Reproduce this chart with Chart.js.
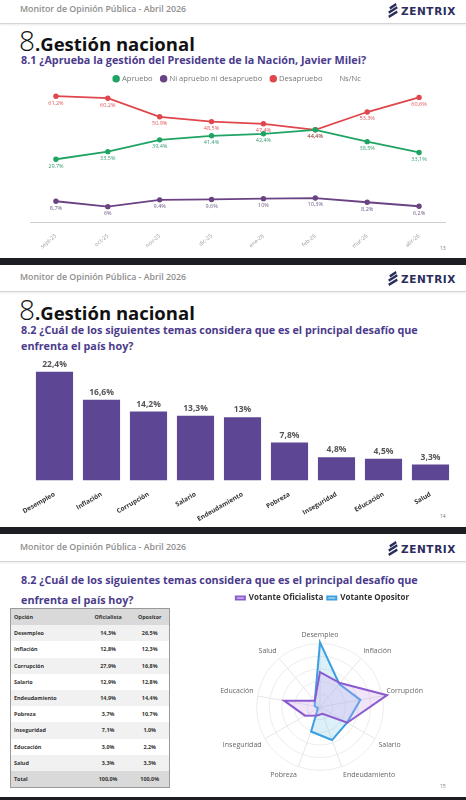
<!DOCTYPE html>
<html>
<head>
<meta charset="utf-8">
<script src="https://cdn.jsdelivr.net/npm/chart.js@4.4.1/dist/chart.umd.min.js"></script>
<style>
  body { margin: 0; width: 466px; height: 800px; background: #1d1d24; position: relative; overflow: hidden; font-family: "Open Sans", sans-serif; }
  .slide { position: absolute; left: 0; width: 466px; background: #fff; }
  .hdr { position: absolute; left: 20px; font-size: 8.8px; font-weight: 600; color: #8e8e8e; }
  .rule { position: absolute; left: 0; width: 466px; height: 1px; background: #d6d6d6; box-shadow: 0 1px 2px rgba(0,0,0,0.12); }
  .logo { position: absolute; left: 387px; display: flex; align-items: center; }
  .logo span { font-size: 10.5px; font-weight: 700; color: #2b2d5c; letter-spacing: 0.6px; margin-left: 2px; font-family: "DejaVu Sans", sans-serif; }
  .title { position: absolute; left: 19px; font-weight: 700; font-size: 18.5px; color: #111; white-space: nowrap; }
  .title .n { font-weight: 300; font-size: 28px; }
  .sub { position: absolute; left: 21px; font-size: 10.8px; font-weight: 700; color: #4b3b8c; line-height: 16px; white-space: nowrap; }
  .pg { position: absolute; left: 440px; font-size: 5px; color: #777; }
  canvas { position: absolute; }
  table { position: absolute; left: 10px; top: 608px; width: 160px; border-collapse: collapse; border: 1.5px solid #9a9a9a; font-size: 5.4px; font-weight: 700; color: #333; }
  td { height: 16.2px; padding: 0 0 0 3px; }
  td.c { text-align: center; padding: 0; }
  tr:nth-child(even) td { background: #f1f1f1; }
  tr.h td, tr.t td { background: #d9d9d9; }
</style>
</head>
<body>
<script>
// ---- data ----
const months = ['sept-25', 'oct-25', 'nov-25', 'dic-25', 'ene-26', 'feb-26', 'mar-26', 'abr-26'];
const apruebo = [29.7, 33.5, 39.4, 41.4, 42.4, 44.4, 38.5, 33.1];
const niNi = [8.7, 6, 9.4, 9.6, 10, 10.3, 8.2, 6.2];
const desapruebo = [61.2, 60.2, 50.9, 48.5, 47.4, 44.4, 53.3, 60.6];

const temas = ['Desempleo', 'Inflación', 'Corrupción', 'Salario', 'Endeudamiento', 'Pobreza', 'Inseguridad', 'Educación', 'Salud'];
const temasTotal = [22.4, 16.6, 14.2, 13.3, 13, 7.8, 4.8, 4.5, 3.3];

const oficialista = [14.3, 12.8, 27.9, 12.9, 14.9, 3.7, 7.1, 3.0, 3.3];
const opositor = [26.5, 12.3, 16.8, 12.8, 14.4, 10.7, 1.0, 2.2, 3.3];
// as plotted in the radar of the slide
const radarOficialista = [14.3, 12.8, 27.9, 12.9, 3.0, 3.7, 7.1, 14.9, 3.3];
const radarOpositor = [26.5, 12.3, 16.8, 12.8, 14.4, 10.7, 1.0, 2.2, 3.3];
</script>

<div class="slide" style="top:0;height:258px"></div>
<div class="slide" style="top:265px;height:262px"></div>
<div class="slide" style="top:534px;height:263px"></div>

<div id="frames"></div>

<canvas id="lineChart" width="466" height="192" style="left:0;top:66px"></canvas>
<canvas id="barChart" width="466" height="177" style="left:0;top:350px"></canvas>
<canvas id="radarChart" width="205" height="208" style="left:220px;top:590px"></canvas>
<table id="tbl"></table>

<script>
const pct = v => String(v).replace('.', ',') + '%';
const pct1 = v => v.toFixed(1).replace('.', ',') + '%';

// headers of the 3 slides
const tops = [0, 268, 538];
let html = '';
tops.forEach((t, i) => {
    html += `<div class="hdr" style="top:${t + 3}px">Monitor de Opinión Pública - Abril 2026</div>`;
    html += `<div class="logo" style="top:${t + 3}px"><svg width="12" height="15" viewBox="0 0 11 14">
        <path d="M2 4 L8 0 L9 2 L3 6 Z M1 8 L9 3 L10 5 L2 10 Z M1 12 L9 7 L10 9 L2 14 Z" fill="#2b2d5c"/></svg><span>ZENTRIX</span></div>`;
    html += `<div class="rule" style="top:${t + 23}px"></div>`;
});
html += `<div class="title" style="top:21px"><span class="n">8</span>.Gestión nacional</div>`;
html += `<div class="sub" style="top:52px">8.1 ¿Aprueba la gestión del Presidente de la Nación, Javier Milei?</div>`;
html += `<div class="title" style="top:290px"><span class="n">8</span>.Gestión nacional</div>`;
html += `<div class="sub" style="top:322px">8.2 ¿Cuál de los siguientes temas considera que es el principal desafío que<br>enfrenta el país hoy?</div>`;
html += `<div class="sub" style="top:570px;line-height:20px">8.2 ¿Cuál de los siguientes temas considera que es el principal desafío que<br>enfrenta el país hoy?</div>`;
html += `<div class="pg" style="top:245px">13</div><div class="pg" style="top:513px">14</div><div class="pg" style="top:783px">15</div>`;
document.getElementById('frames').innerHTML = html;

// table
let rows = '<tr class="h"><td>Opción</td><td class="c">Oficialista</td><td class="c">Opositor</td></tr>';
temas.forEach((t, i) => {
    rows += `<tr><td>${t}</td><td class="c">${pct1(oficialista[i])}</td><td class="c">${pct1(opositor[i])}</td></tr>`;
});
rows += '<tr class="t"><td>Total</td><td class="c">100,0%</td><td class="c">100,0%</td></tr>';
document.getElementById('tbl').innerHTML = rows;

// value labels drawn next to each point / bar
const valueLabels = {
    id: 'valueLabels',
    afterDatasetsDraw(chart, args, opts) {
        const ctx = chart.ctx;
        ctx.save();
        ctx.textAlign = 'center';
        chart.data.datasets.forEach((ds, di) => {
            if (!ds.labelColor) return;
            const meta = chart.getDatasetMeta(di);
            ctx.fillStyle = ds.labelColor;
            ctx.font = opts.font;
            meta.data.forEach((el, i) => {
                if (opts.below) {
                    ctx.textBaseline = 'top';
                    ctx.fillText(pct(ds.data[i]), el.x, el.y + 4);
                } else {
                    ctx.textBaseline = 'bottom';
                    ctx.fillText(pct(ds.data[i]), el.x, el.y - 3);
                }
            });
        });
        ctx.restore();
    }
};

Chart.defaults.font.family = '"Open Sans", sans-serif';

new Chart(document.getElementById('lineChart'), {
    type: 'line',
    data: {
        labels: months,
        datasets: [{
            label: 'Apruebo', data: apruebo, borderColor: '#1fa464', backgroundColor: '#1fa464',
            labelColor: '#3a9d75', borderWidth: 1.8, pointRadius: 1.8
        }, {
            label: 'Ni apruebo ni desapruebo', data: niNi, borderColor: '#6a4384', backgroundColor: '#6a4384',
            labelColor: '#6a5a80', borderWidth: 1.8, pointRadius: 1.8
        }, {
            label: 'Desapruebo', data: desapruebo, borderColor: '#e0474d', backgroundColor: '#e0474d',
            labelColor: '#e0575a', borderWidth: 1.8, pointRadius: 1.8
        }, {
            label: 'Ns/Nc', data: [], borderColor: 'rgba(0,0,0,0)', backgroundColor: 'rgba(0,0,0,0)'
        }]
    },
    options: {
        responsive: false,
        animation: false,
        layout: { padding: { left: 30, right: 21, bottom: 6 } },
        scales: {
            x: {
                offset: true,
                grid: { display: false },
                border: { color: '#cfcfcf' },
                ticks: { color: '#9a9a9a', font: { size: 5.5 }, minRotation: 40, maxRotation: 40, padding: 2 }
            },
            y: { display: false, min: -2, max: 63 }
        },
        plugins: {
            legend: {
                labels: { usePointStyle: true, pointStyle: 'circle', boxWidth: 4, boxHeight: 4, color: '#777', font: { size: 7.6 }, padding: 9 }
            },
            tooltip: { enabled: false },
            valueLabels: { below: true, font: '5.5px "Open Sans"' }
        }
    },
    plugins: [valueLabels]
});

new Chart(document.getElementById('barChart'), {
    type: 'bar',
    data: {
        labels: temas,
        datasets: [{
            data: temasTotal, backgroundColor: '#5d4794', labelColor: '#555',
            categoryPercentage: 1, barPercentage: 0.79
        }]
    },
    options: {
        responsive: false,
        animation: false,
        layout: { padding: { left: 31, right: 12, top: 9, bottom: 2 } },
        scales: {
            x: {
                grid: { display: false },
                border: { display: false },
                ticks: { color: '#333', font: { size: 6.5, weight: '700' }, minRotation: 30, maxRotation: 30, padding: 2 }
            },
            y: { display: false, min: 0, max: 25 }
        },
        plugins: {
            legend: { display: false },
            tooltip: { enabled: false },
            valueLabels: { below: false, font: '700 8.5px "Open Sans"' }
        }
    },
    plugins: [valueLabels]
});

new Chart(document.getElementById('radarChart'), {
    type: 'radar',
    data: {
        labels: temas,
        datasets: [{
            label: 'Votante Oficialista', data: radarOficialista,
            borderColor: '#8a5ccf', backgroundColor: 'rgba(205,165,235,0.3)', borderWidth: 2, pointRadius: 0
        }, {
            label: 'Votante Opositor', data: radarOpositor,
            borderColor: '#3b9fe0', backgroundColor: 'rgba(140,205,240,0.3)', borderWidth: 2, pointRadius: 0
        }]
    },
    options: {
        responsive: false,
        animation: false,
        scales: {
            r: {
                min: 0, max: 26,
                ticks: { display: false, stepSize: 5.2 },
                grid: { circular: true, color: '#ececec' },
                angleLines: { color: '#e6e6e6' },
                pointLabels: { color: '#666', font: { size: 7 }, padding: 4 }
            }
        },
        plugins: {
            legend: {
                labels: { boxWidth: 9, boxHeight: 3, color: '#333', font: { size: 8, weight: '700' }, padding: 4 }
            },
            tooltip: { enabled: false }
        }
    }
});
</script>
</body>
</html>
